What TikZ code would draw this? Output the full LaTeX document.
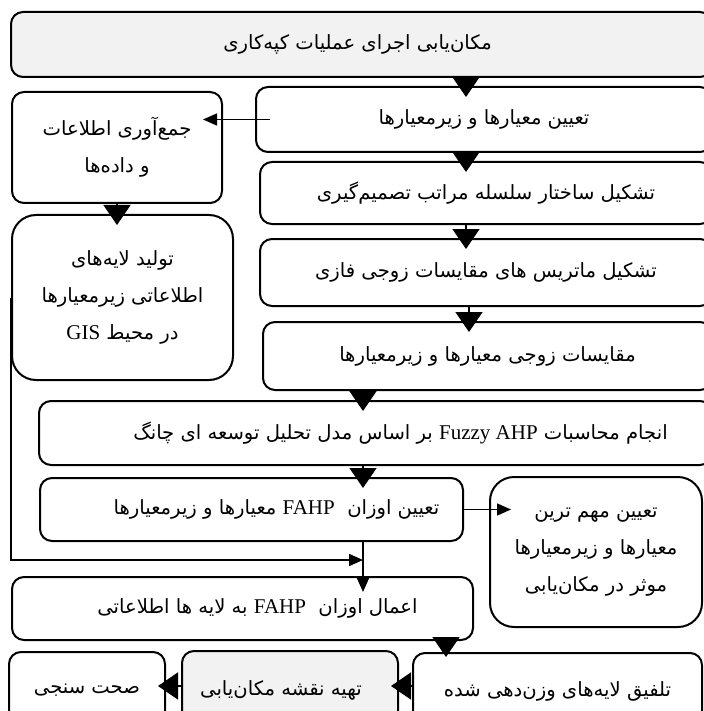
\documentclass[tikz,border=0pt]{standalone}
\usepackage{fontspec}
\setmainfont{Liberation Serif}
\newfontfamily\fafont[Script=Arabic]{DejaVu Sans}
\TeXXeTstate=1
\usetikzlibrary{arrows.meta}
% Persian text, with Latin words inside it
\newcommand{\fatxt}[1]{{\fafont\beginR #1\endR}}
\newcommand{\entxt}[1]{\beginL{\rmfamily\fontsize{10.5}{12}\selectfont #1}\endL{}}

\begin{document}
\begin{tikzpicture}[x=0.5pt,y=-0.5pt,
    box/.style={draw,line width=1pt,rounded corners=6pt,fill=white,
      inner sep=1pt,align=center,font=\fontsize{9.8}{18.5}\selectfont},
    greybox/.style={box,fill=gray!10},
    roundbox/.style={box,rounded corners=12pt},
    bigarr/.style={-{Triangle[width=13.5pt,length=10pt]},line width=0.8pt},
    thinarr/.style={-{Triangle[width=6pt,length=7pt]},line width=0.75pt}]
  \useasboundingbox (0,0) rectangle (704,711);
  \clip (0,0) rectangle (704,711);
  % Boxes
  % -- main column
  \node[greybox,minimum width=701*0.5pt,minimum height=65*0.5pt] (site) at (361.5,44.5)
    {\fatxt{مکان‌یابی اجرای عملیات کپه‌کاری}\hspace*{4pt}};
  \node[box,minimum width=456*0.5pt,minimum height=65*0.5pt] (crit) at (484,119.5)
    {\fatxt{تعیین معیارها و زیرمعیارها}};
  \node[box,minimum width=452*0.5pt,minimum height=62*0.5pt] (hier) at (486,193)
    {\fatxt{تشکیل ساختار سلسله مراتب تصمیم‌گیری}};
  \node[box,minimum width=452*0.5pt,minimum height=67*0.5pt] (matrix) at (486,272.5)
    {\fatxt{تشکیل ماتریس های مقایسات زوجی فازی}};
  \node[box,minimum width=449*0.5pt,minimum height=68*0.5pt] (pairs) at (487.5,356)
    {\fatxt{مقایسات زوجی معیارها و زیرمعیارها}};
  \node[box,minimum width=673*0.5pt,minimum height=64*0.5pt] (calc) at (375.5,433)
    {\hspace*{25pt}\fatxt{انجام محاسبات \entxt{Fuzzy AHP} بر اساس مدل تحلیل توسعه ای چانگ}};
  \node[box,minimum width=423*0.5pt,minimum height=63*0.5pt] (weights) at (251.5,509.5)
    {\hspace*{25pt}\fatxt{تعیین اوزان \ \entxt{FAHP} معیارها و زیرمعیارها}};
  \node[roundbox,minimum width=212*0.5pt,minimum height=150*0.5pt] (top) at (596,552)
    {\fatxt{تعیین مهم ترین}\\\fatxt{معیارها و زیرمعیارها}\\\fatxt{موثر در مکان‌یابی}};
  % -- left column
  \node[box,minimum width=210*0.5pt,minimum height=111*0.5pt] (data) at (117,147.5)
    {\fatxt{جمع‌آوری اطلاعات}\\\fatxt{و داده‌ها}};
  \node[roundbox,minimum width=221*0.5pt,minimum height=165*0.5pt] (layers) at (122.5,297.5)
    {\fatxt{تولید لایه‌های}\\\fatxt{اطلاعاتی زیرمعیارها}\\\fatxt{در محیط \entxt{GIS}}};
  % -- bottom rows
  \node[box,minimum width=461*0.5pt,minimum height=63*0.5pt] (apply) at (242.5,608.5)
    {\hspace*{15pt}\fatxt{اعمال اوزان \ \entxt{FAHP} به لایه ها اطلاعاتی}};
  \node[box,minimum width=289*0.5pt,minimum height=76*0.5pt] (merge) at (557.5,691)
    {\fatxt{تلفیق لایه‌های وزن‌دهی شده}};
  \node[greybox,minimum width=216*0.5pt,minimum height=78*0.5pt] (map) at (290,690)
    {\fatxt{تهیه نقشه مکان‌یابی}\hspace*{9pt}};
  \node[box,minimum width=156*0.5pt,minimum height=77*0.5pt] (check) at (87,690.5)
    {\fatxt{صحت سنجی}};
  % Arrows
  \coordinate (colA) at (466,0);
  \coordinate (colB) at (363,0);
  \coordinate (turn) at (363,560);
  \begin{scope}[bigarr,shorten >=-5.5pt]
    \draw (site.south -| colA) -- (crit.north -| colA);
    \draw (crit.south -| colA) -- (hier.north -| colA);
    \draw (hier.south -| colA) -- (matrix.north -| colA);
    \draw ([xshift=1.5pt]matrix.south -| colA) -- ([xshift=1.5pt]pairs.north -| colA);
    \draw (pairs.south -| colB) -- (calc.north -| colB);
    \draw (calc.south -| colB) -- (weights.north -| colB);
    \draw (data.south) -- (data.south |- layers.north);
  \end{scope}
  \draw[bigarr,shorten >=-2.5pt] ([xshift=-14pt]apply.south east) -- ([xshift=-14pt]apply.south east |- merge.north);
  \draw[bigarr,shorten >=-4pt] (merge.west |- 0,686) -- (map.east |- 0,686);
  \draw[bigarr,shorten >=-4pt] (map.west |- 0,686) -- (check.east |- 0,686);
  \draw[thinarr,shorten <=-7.5pt,shorten >=-10pt] (crit.west) -- (data.east |- crit.west);
  \draw[thinarr,shorten >=-11pt] (weights.east) -- (top.west |- weights.east);
  \draw[thinarr] (layers.west) |- (turn);
  \draw[thinarr,shorten >=-8pt] (weights.south -| colB) -- (apply.north -| colB);
\end{tikzpicture}
\end{document}
